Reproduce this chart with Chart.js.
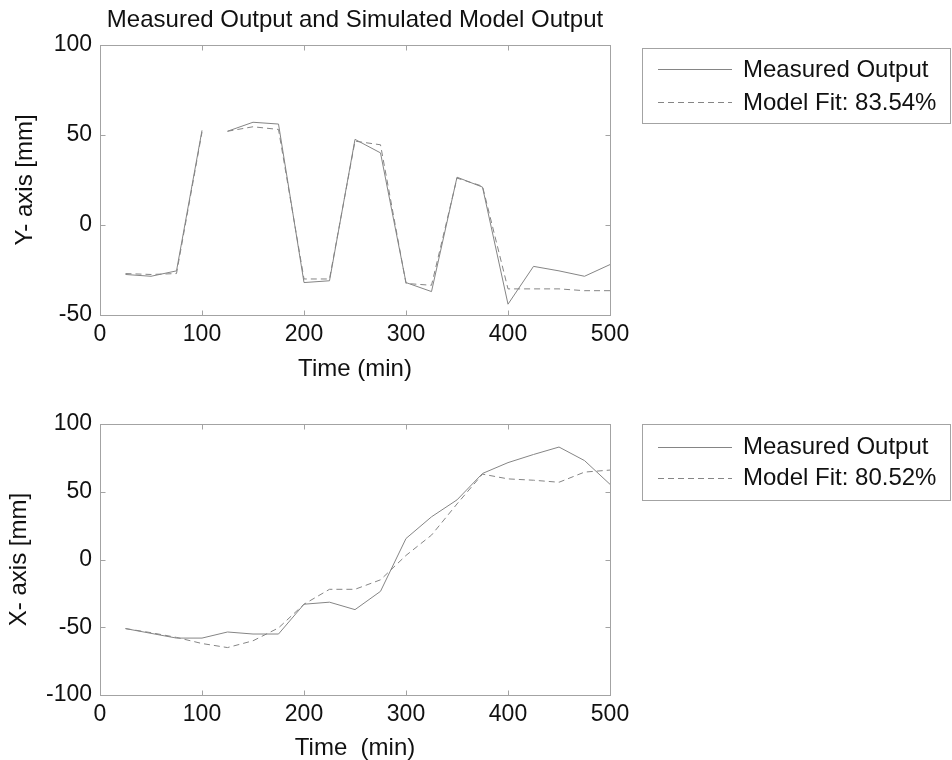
<!DOCTYPE html>
<html><head><meta charset="utf-8">
<script src="https://cdn.jsdelivr.net/npm/chart.js@4/dist/chart.umd.min.js"></script>
<style>
html,body{margin:0;padding:0;background:#fff;}
#wrap{position:relative;width:952px;height:760px;overflow:hidden;}
canvas{position:absolute;left:0;}
#c1{top:0;} #c2{top:400px;}
</style></head><body>
<div id="wrap"><canvas id="c1" width="952" height="400"></canvas><canvas id="c2" width="952" height="360"></canvas></div>
<script>
// ---- data ----
const times = [25,50,75,100,125,150,175,200,225,250,275,300,325,350,375,400,425,450,475,500];
const yMeasured = [-27.5,-28.5,-25.5,52.5,52,57,56,-32,-31,47.5,40,-32,-37,26.5,21,-44,-23,-25.5,-28.5,-22];
const yModel    = [-27,-27.5,-27,51.5,52,54.5,53,-30,-30,46.5,44.5,-32.5,-33.5,26,21.5,-35.5,-35.5,-35.5,-36.5,-36.5];
const xMeasured = [-51,-54.5,-58,-58,-53.5,-55,-55,-33,-31.5,-37,-23.5,15.5,31.5,44,63.5,71.5,77.5,83,73,55.5];
const xModel    = [-51,-54,-57.5,-62,-65,-60,-50.5,-33,-22,-22,-15,3,18,41,63,59.5,58.5,57,64.5,66];
const gapAfterTop = [100];       // no samples between 100 and 125 min in the top plot
const timeTicks = [0,100,200,300,400,500];
const yTicksTop = [-50,0,50,100];
const yTicksBottom = [-100,-50,0,50,100];
const seriesLabels = ['Measured Output'];
const fitTop = 'Model Fit: 83.54%';
const fitBottom = 'Model Fit: 80.52%';

Chart.defaults.font.family = '"Liberation Sans", Arial, Helvetica, sans-serif';
Chart.defaults.color = '#111';

const LINE = '#858585';
const FRAME = '#a3a3a3';

const framePlugin = {
  id: 'frame',
  afterDatasetsDraw(chart) {
    const {ctx, chartArea: a, scales: {x, y}} = chart;
    ctx.save();
    ctx.strokeStyle = FRAME; ctx.lineWidth = 1;
    const L = Math.round(a.left) + 0.5, R = Math.round(a.right) + 0.5;
    const T = Math.round(a.top) + 0.5, B = Math.round(a.bottom) + 0.5;
    ctx.strokeRect(L, T, R - L, B - T);
    const tl = 5;
    ctx.beginPath();
    x.ticks.forEach(t => {
      const p = Math.round(x.getPixelForValue(t.value)) + 0.5;
      ctx.moveTo(p, B); ctx.lineTo(p, B - tl);
      ctx.moveTo(p, T); ctx.lineTo(p, T + tl);
    });
    y.ticks.forEach(t => {
      const p = Math.round(y.getPixelForValue(t.value)) + 0.5;
      ctx.moveTo(L, p); ctx.lineTo(L + tl, p);
      ctx.moveTo(R, p); ctx.lineTo(R - tl, p);
    });
    ctx.stroke();
    ctx.restore();
  }
};

const boxLegend = {
  id: 'boxLegend',
  afterDraw(chart, args, o) {
    const {ctx} = chart;
    ctx.save();
    ctx.strokeStyle = FRAME; ctx.lineWidth = 1;
    ctx.strokeRect(o.left + 0.5, o.top + 0.5, o.width, o.height);
    ctx.font = '24px "Liberation Sans", Arial, sans-serif';
    ctx.fillStyle = '#111';
    ctx.textBaseline = 'middle';
    chart.data.datasets.forEach((ds, i) => {
      const yy = Math.round(o.top + o.rows[i]) + 0.5;
      ctx.strokeStyle = ds.borderColor;
      ctx.setLineDash(ds.borderDash || []);
      ctx.beginPath();
      ctx.moveTo(o.left + o.lineStart, yy); ctx.lineTo(o.left + o.lineEnd, yy);
      ctx.stroke();
      ctx.setLineDash([]);
      ctx.fillText(ds.label, o.left + o.textX, o.top + o.rows[i] + 1);
    });
    ctx.restore();
  }
};

function makeChart(id, cfg) {
  const ds = [
    {label: seriesLabels[0], data: times.map((t, i) => ({x: t, y: cfg.meas[i]})),
     borderColor: LINE, borderWidth: 1, pointRadius: 0, tension: 0, fill: false,
     segment: {borderColor: c => cfg.gaps.includes(c.p0.parsed.x) ? 'rgba(0,0,0,0)' : undefined}},
    {label: cfg.fit, data: times.map((t, i) => ({x: t, y: cfg.model[i]})),
     borderColor: LINE, borderWidth: 1, borderDash: [6, 4], pointRadius: 0, tension: 0, fill: false,
     segment: {borderColor: c => cfg.gaps.includes(c.p0.parsed.x) ? 'rgba(0,0,0,0)' : undefined}}
  ];
  return new Chart(document.getElementById(id), {
    type: 'line',
    data: {datasets: ds},
    plugins: [framePlugin, boxLegend],
    options: {
      responsive: false, animation: false, devicePixelRatio: 1,
      layout: {padding: {left: 0, right: 342, top: cfg.padTop, bottom: 0}},
      plugins: {
        legend: {display: false}, tooltip: {enabled: false},
        title: cfg.title ? {display: true, text: cfg.title, fullSize: false,
          font: {size: 24, weight: 'normal', lineHeight: 1.2}, color: '#111',
          padding: {top: 6, bottom: 10}} : {display: false},
        boxLegend: cfg.legend
      },
      scales: {
        x: {type: 'linear', min: 0, max: 500,
            afterBuildTicks: s => { s.ticks = timeTicks.map(v => ({value: v})); },
            afterFit: s => { s.height = cfg.xH; },
            grid: {display: false, drawTicks: false}, border: {display: false},
            ticks: {font: {size: 23, lineHeight: 1}, padding: cfg.xTickPad, maxRotation: 0, color: '#111'},
            title: {display: true, text: cfg.xTitle, font: {size: 24, lineHeight: 1}, color: '#111',
                    padding: {top: 0, bottom: cfg.xTitlePad}}},
        y: {type: 'linear', min: cfg.yMin, max: cfg.yMax,
            afterBuildTicks: s => { s.ticks = cfg.yTicks.map(v => ({value: v})); },
            afterFit: s => { s.width = 100; },
            grid: {display: false, drawTicks: false}, border: {display: false},
            ticks: {font: {size: 23, lineHeight: 1}, padding: 8, color: '#111'},
            title: {display: true, text: cfg.yTitle, font: {size: 24, lineHeight: 1}, color: '#111',
                    padding: {top: cfg.yTitlePad, bottom: 0}}}
      }
    }
  });
}

makeChart('c1', {
  meas: yMeasured, model: yModel, fit: fitTop, gaps: gapAfterTop,
  title: 'Measured Output and Simulated Model Output', padTop: 0,
  xH: 85, xTickPad: 8.5, xTitle: 'Time (min)', xTitlePad: 18.5,
  yMin: -50, yMax: 100, yTicks: yTicksTop, yTitle: 'Y- axis [mm]', yTitlePad: 13,
  legend: {left: 642, top: 48, width: 308, height: 75, rows: [21, 54], lineStart: 16, lineEnd: 90, textX: 101}
});
makeChart('c2', {
  meas: xMeasured, model: xModel, fit: fitBottom, gaps: [],
  title: null, padTop: 24,
  xH: 65, xTickPad: 8, xTitle: 'Time  (min)', xTitlePad: 0,
  yMin: -100, yMax: 100, yTicks: yTicksBottom, yTitle: 'X- axis [mm]', yTitlePad: 7,
  legend: {left: 642, top: 24, width: 308, height: 76, rows: [22.5, 53.5], lineStart: 16, lineEnd: 90, textX: 101}
});
</script>
</body></html>
